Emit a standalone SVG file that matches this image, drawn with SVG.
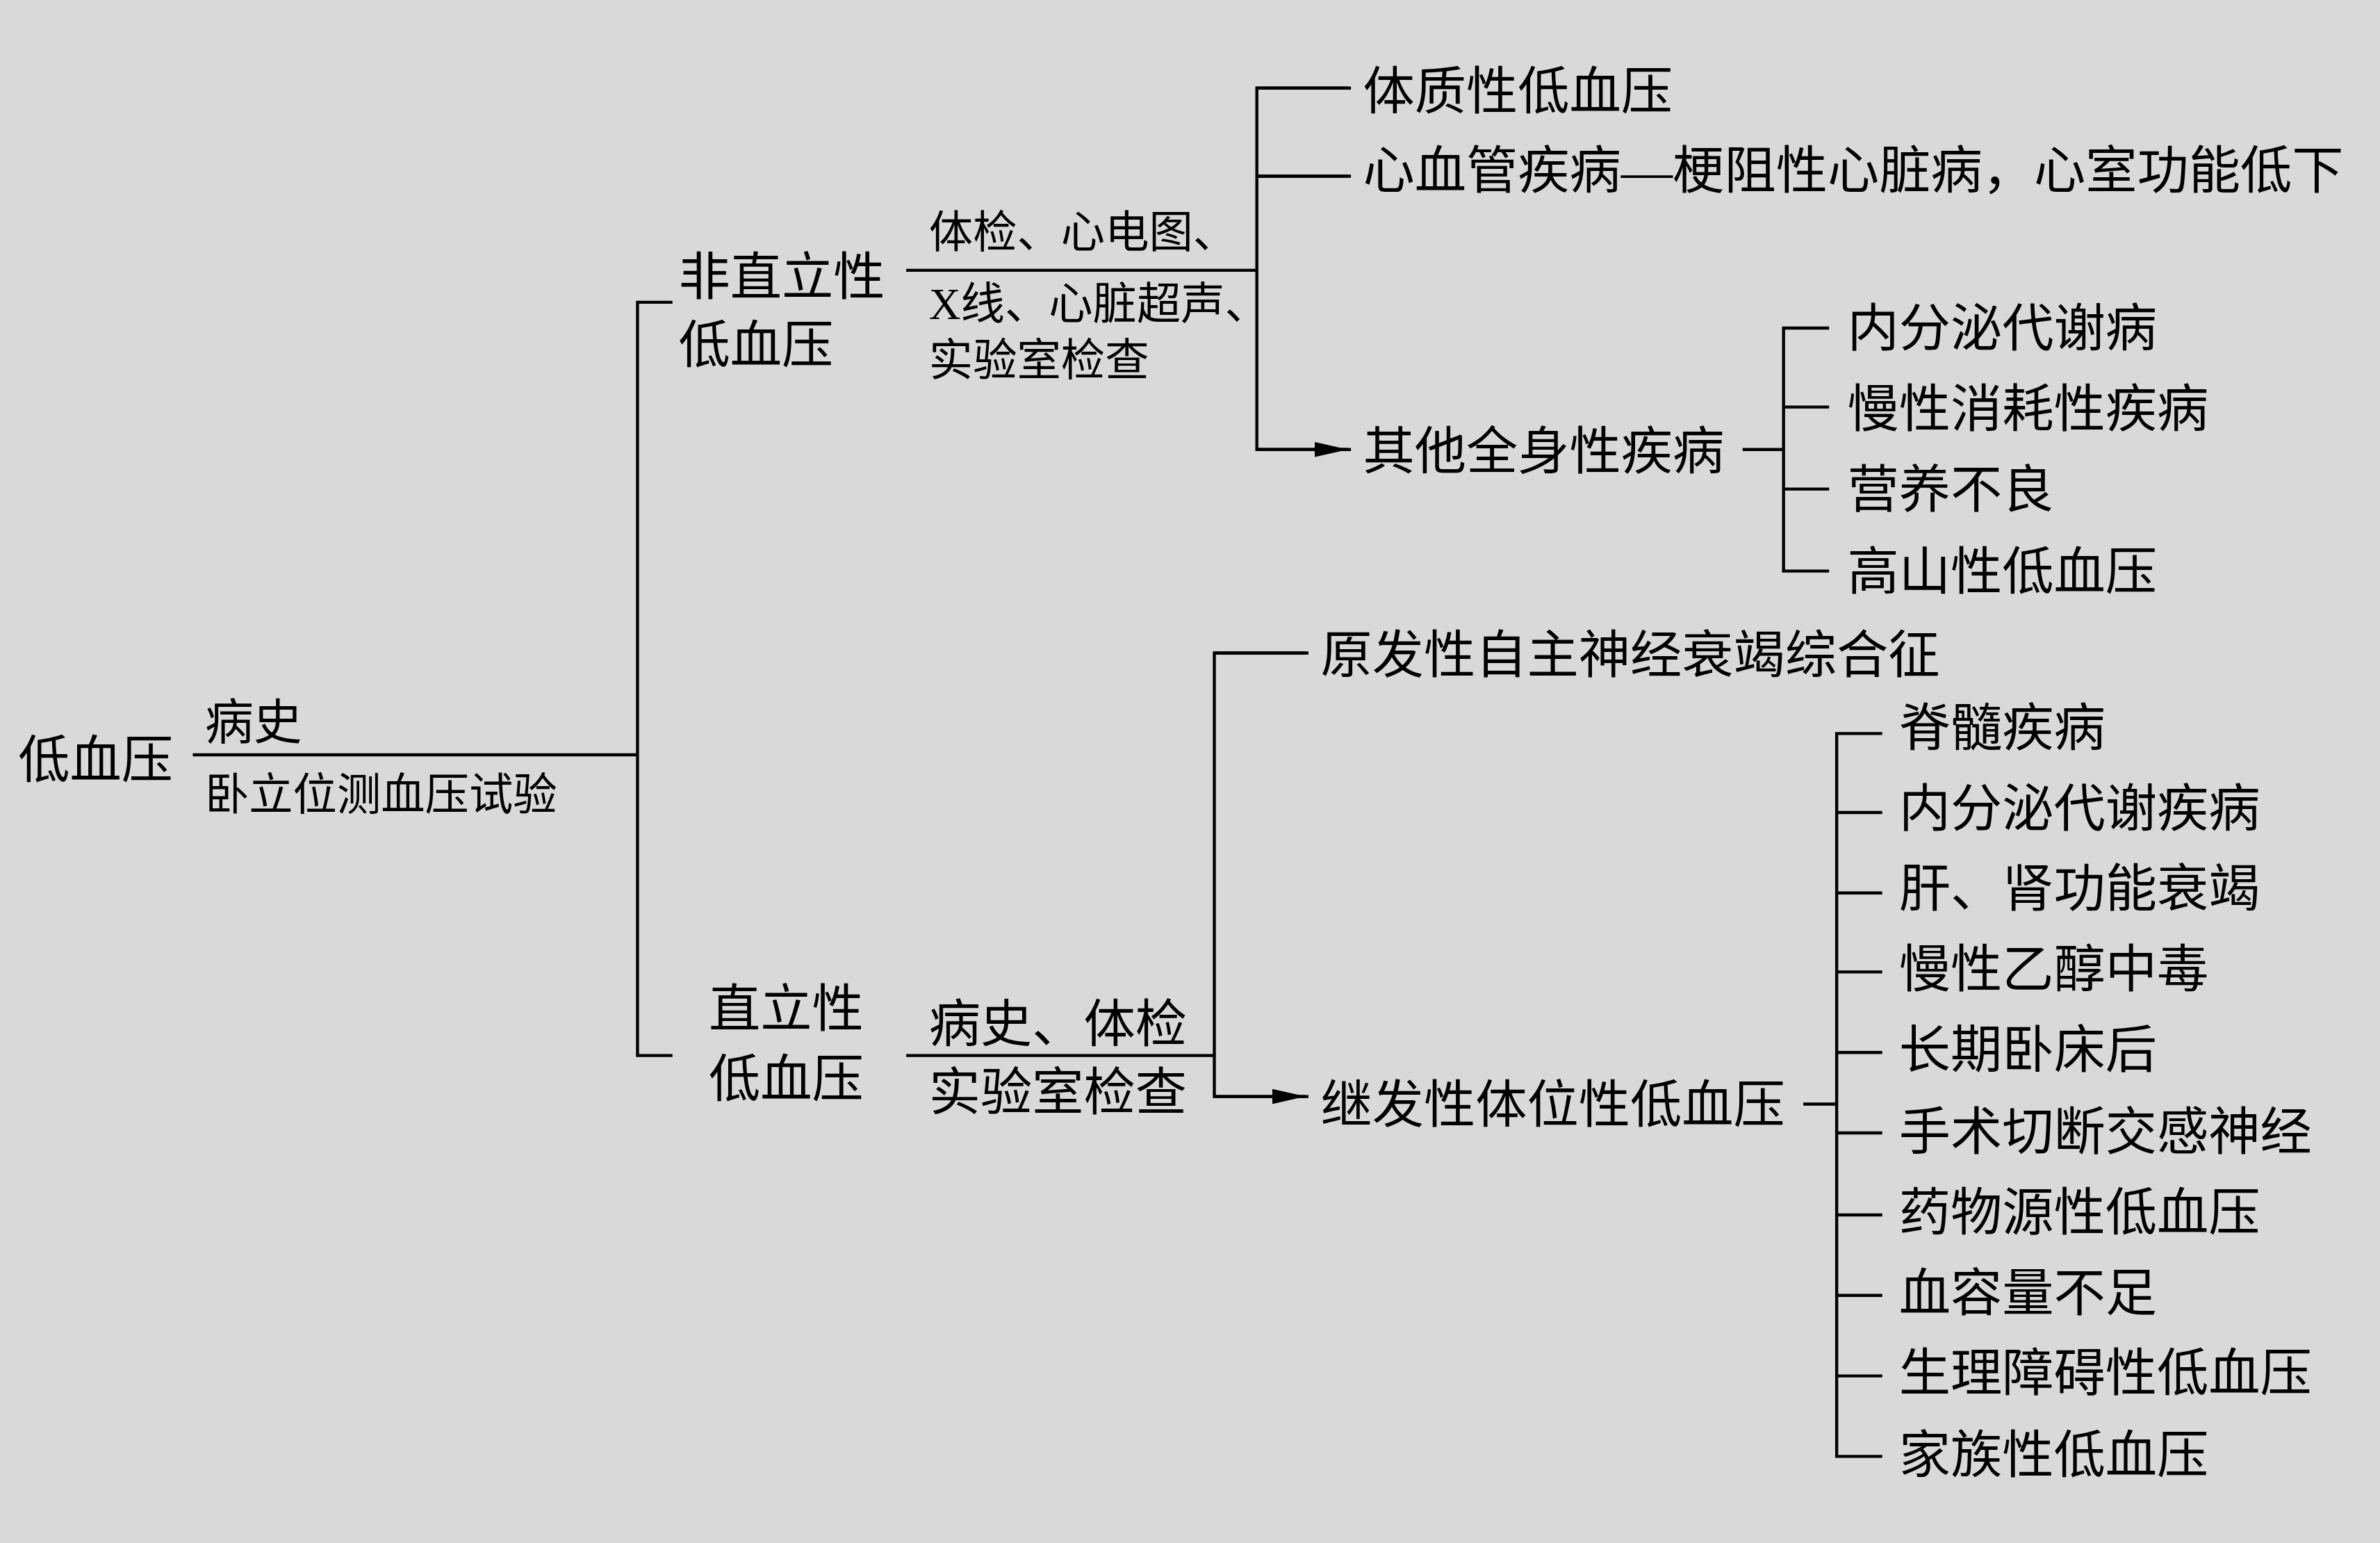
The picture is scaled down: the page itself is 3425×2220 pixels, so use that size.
<svg xmlns="http://www.w3.org/2000/svg" width="3425" height="2220" viewBox="0 0 3425 2220">
<style>
text{font-family:"Liberation Serif","Noto Sans CJK SC",serif;fill:#000}
.a{font-size:34px}.b{font-size:29px}.c{font-size:32px}
.l{stroke:#000;stroke-width:2;fill:none}
</style>
<defs><marker id="ar" markerWidth="10" markerHeight="8" refX="10" refY="4" orient="auto" markerUnits="userSpaceOnUse"><path d="M0,0 L10,4 L0,8 Z" fill="#000"/></marker>
<marker id="ar2" markerWidth="22" markerHeight="10" refX="22" refY="5" orient="auto" markerUnits="userSpaceOnUse"><path d="M0,0 L22,5 L0,10 Z" fill="#000"/></marker></defs>
<rect width="3425" height="2220" fill="#d9d9d9"/>
<g transform="scale(2.1844,2.185)">
<g id="connectors" class="l">
<path d="M127,497H420M443,199H420V695H443"/>
<path d="M597,178H828M890,58H828V296H890M828,116H890"/>
<path d="M828,58H888M828,116H888M828,296H888" marker-end="url(#ar2)"/>
<path d="M1148,296H1175M1205,216H1175V376H1205M1175,268H1205M1175,322H1205"/>
<path d="M597,695H800M862,430H800V722H862"/>
<path d="M800,430H860M800,722H860" marker-end="url(#ar2)"/>
<path d="M1188,727H1210M1240,483H1210V959H1240M1210,535H1240M1210,588H1240M1210,640H1240M1210,693H1240M1210,746H1240M1210,800H1240M1210,853H1240M1210,906H1240"/>
</g>
<g id="root"><text class="a" x="12" y="512">低血压</text></g>
<g id="e1"><text class="c" x="135" y="487">病史</text><text class="b" x="135" y="533">卧立位测血压试验</text></g>
<g id="n1"><text class="a" x="447" y="194">非直立性</text><text class="a" x="447" y="239">低血压</text></g>
<g id="e2"><text class="b" x="612" y="163">体检、心电图、</text><text class="b" x="612" y="210">X线、心脏超声、</text><text class="b" x="612" y="247">实验室检查</text></g>
<g id="n11"><text class="a" x="898" y="72">体质性低血压</text></g>
<g id="n12"><text class="a" x="898" y="124">心血管疾病—梗阻性心脏病，心室功能低下</text></g>
<g id="n13"><text class="a" x="898" y="309">其他全身性疾病</text></g>
<g id="n13s"><text class="a" x="1217" y="228">内分泌代谢病</text><text class="a" x="1217" y="281">慢性消耗性疾病</text><text class="a" x="1217" y="334">营养不良</text><text class="a" x="1217" y="388">高山性低血压</text></g>
<g id="n2"><text class="a" x="467" y="676">直立性</text><text class="a" x="467" y="722">低血压</text></g>
<g id="e3"><text class="a" x="612" y="686">病史、体检</text><text class="a" x="612" y="731">实验室检查</text></g>
<g id="n21"><text class="a" x="870" y="443">原发性自主神经衰竭综合征</text></g>
<g id="n22"><text class="a" x="870" y="739">继发性体位性低血压</text></g>
<g id="n22s">
<text class="a" x="1251" y="491">脊髓疾病</text>
<text class="a" x="1251" y="544">内分泌代谢疾病</text>
<text class="a" x="1251" y="597">肝、肾功能衰竭</text>
<text class="a" x="1251" y="650">慢性乙醇中毒</text>
<text class="a" x="1251" y="703">长期卧床后</text>
<text class="a" x="1251" y="757">手术切断交感神经</text>
<text class="a" x="1251" y="810">药物源性低血压</text>
<text class="a" x="1251" y="863">血容量不足</text>
<text class="a" x="1251" y="916">生理障碍性低血压</text>
<text class="a" x="1251" y="970">家族性低血压</text>
</g>
</g>
</svg>
